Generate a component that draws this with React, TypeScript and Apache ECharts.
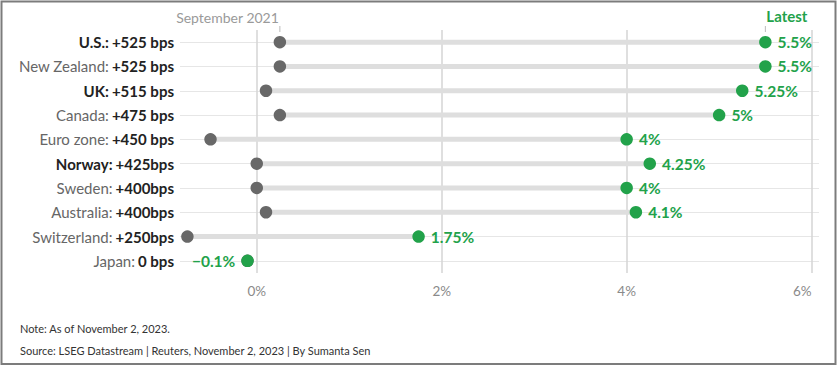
import React, { useEffect, useRef } from "react";
import * as echarts from "echarts";

const countries = ["U.S.", "New Zealand", "UK", "Canada", "Euro zone", "Norway", "Sweden", "Australia", "Switzerland", "Japan"];
const changeLabels = ["+525 bps", "+525 bps", "+515 bps", "+475 bps", "+450 bps", "+425bps", "+400bps", "+400bps", "+250bps", "0 bps"];
const boldNames = [true, false, true, false, false, true, false, false, false, false];
const sept2021 = [0.25, 0.25, 0.1, 0.25, -0.5, 0, 0, 0.1, -0.75, -0.1];
const latest = [5.5, 5.5, 5.25, 5, 4, 4.25, 4, 4.1, 1.75, -0.1];
const latestLabels = ["5.5%", "5.5%", "5.25%", "5%", "4%", "4.25%", "4%", "4.1%", "1.75%", "\u22120.1%"];
const xTicks = [0, 2, 4, 6];
const noteText = "Note: As of November 2, 2023.";
const sourceText = "Source: LSEG Datastream | Reuters, November 2, 2023 | By Sumanta Sen";

const GREEN = "#22a24a";
const GREY_DOT = "#686868";
const FONT = "Lato";

export default function App() {
  const ref = useRef<HTMLDivElement>(null);
  useEffect(() => {
    if (!ref.current) return;
    const chart = echarts.init(ref.current, undefined, { renderer: "svg" });
    const option: any = {
      animation: false,
      textStyle: { fontFamily: FONT },
      grid: { left: 180, top: 30, width: 639, height: 243, containLabel: false },
      xAxis: {
        type: "value",
        min: -0.83,
        max: 6.08,
        axisLine: { show: false },
        axisTick: { show: false },
        splitLine: { show: false },
        axisLabel: {
          customValues: xTicks,
          formatter: (v: number) => `${v}%`,
          color: "#8a8a8a",
          fontSize: 13.5,
          fontFamily: FONT,
          margin: 11,
          alignMaxLabel: "right",
        },
      },
      yAxis: {
        type: "category",
        inverse: true,
        data: countries,
        axisLine: { show: false },
        axisTick: { show: false },
        splitLine: { show: false },
        axisLabel: {
          margin: 6,
          fontFamily: FONT,
          formatter: (name: string) => {
            const i = countries.indexOf(name);
            const nameStyle = boldNames[i] ? "b" : "n";
            return `{${nameStyle}|${name}:} {b|${changeLabels[i]}}`;
          },
          rich: {
            n: { color: "#666", fontSize: 15, fontFamily: FONT },
            b: { color: "#222", fontSize: 15, fontWeight: "bold", fontFamily: FONT },
          },
        },
      },
      series: [
        {
          type: "custom",
          silent: true,
          z: 2,
          renderItem: (params: any, api: any) => {
            const i = api.value(0);
            const a = api.coord([api.value(1), i]);
            const b = api.coord([api.value(2), i]);
            return {
              type: "line",
              shape: { x1: a[0], y1: a[1], x2: b[0], y2: b[1] },
              style: { stroke: "#dedede", lineWidth: 5 },
            };
          },
          encode: { x: [1, 2], y: 0 },
          data: countries.map((c, i) => [i, sept2021[i], latest[i]]),
          markLine: {
            silent: true,
            symbol: "none",
            label: { show: false },
            lineStyle: { color: "#e6e6e6", width: 1, type: "solid" },
            z: 1,
            data: [
              ...countries.map((c) => ({ yAxis: c })),
              ...xTicks.map((t) => ({ xAxis: t, lineStyle: { color: "#d4d4d4", width: 1.5, type: "solid" } })),
            ],
          },
        },
        {
          type: "scatter",
          z: 3,
          symbolSize: 12.5,
          itemStyle: { color: GREY_DOT, opacity: 1 },
          data: countries.map((c, i) => [sept2021[i], c]),
        },
        {
          type: "scatter",
          z: 4,
          symbolSize: 12.5,
          itemStyle: { color: GREEN, opacity: 1 },
          label: {
            show: true,
            position: "right",
            distance: 6,
            color: GREEN,
            fontWeight: "bold",
            fontSize: 15.5,
            fontFamily: FONT,
            formatter: (p: any) => latestLabels[p.dataIndex],
          },
          data: countries.map((c, i) => ({
            value: [latest[i], c],
            label: latest[i] < 0 ? { position: "left" } : undefined,
          })),
        },
      ],
    };
    chart.setOption(option);

    const sx = chart.convertToPixel({ xAxisIndex: 0 }, sept2021[0]) as number;
    const lx = chart.convertToPixel({ xAxisIndex: 0 }, latest[0]) as number;
    chart.setOption({
      graphic: [
        {
          type: "rect",
          shape: { x: 1.5, y: 1.5, width: 834, height: 362.5 },
          style: { fill: "none", stroke: "#7c7c7c", lineWidth: 2 },
          silent: true,
        },
        {
          type: "line",
          shape: { x1: sx, y1: 26, x2: sx, y2: 32 },
          style: { stroke: "#bbb", lineWidth: 1 },
        },
        {
          type: "text",
          x: sx - 1,
          y: 17,
          style: { text: "September 2021", fill: "#9a9a9a", fontSize: 14, fontFamily: FONT, align: "right", verticalAlign: "middle" },
        },
        {
          type: "line",
          shape: { x1: lx, y1: 26, x2: lx, y2: 32 },
          style: { stroke: "#bbb", lineWidth: 1 },
        },
        {
          type: "text",
          x: lx + 1,
          y: 16,
          style: { text: "Latest", fill: GREEN, fontSize: 15, fontWeight: "bold", fontFamily: FONT, align: "left", verticalAlign: "middle" },
        },
        {
          type: "text",
          x: 20,
          y: 328,
          style: { text: noteText, fill: "#333", fontSize: 11, fontFamily: FONT, align: "left", verticalAlign: "middle" },
        },
        {
          type: "text",
          x: 20,
          y: 350,
          style: { text: sourceText, fill: "#333", fontSize: 11, fontFamily: FONT, align: "left", verticalAlign: "middle" },
        },
      ],
    });
    return () => chart.dispose();
  }, []);
  return <div ref={ref} style={{ position: "fixed", left: 0, top: 0, width: 840, height: 369, background: "#fff" }} />;
}
